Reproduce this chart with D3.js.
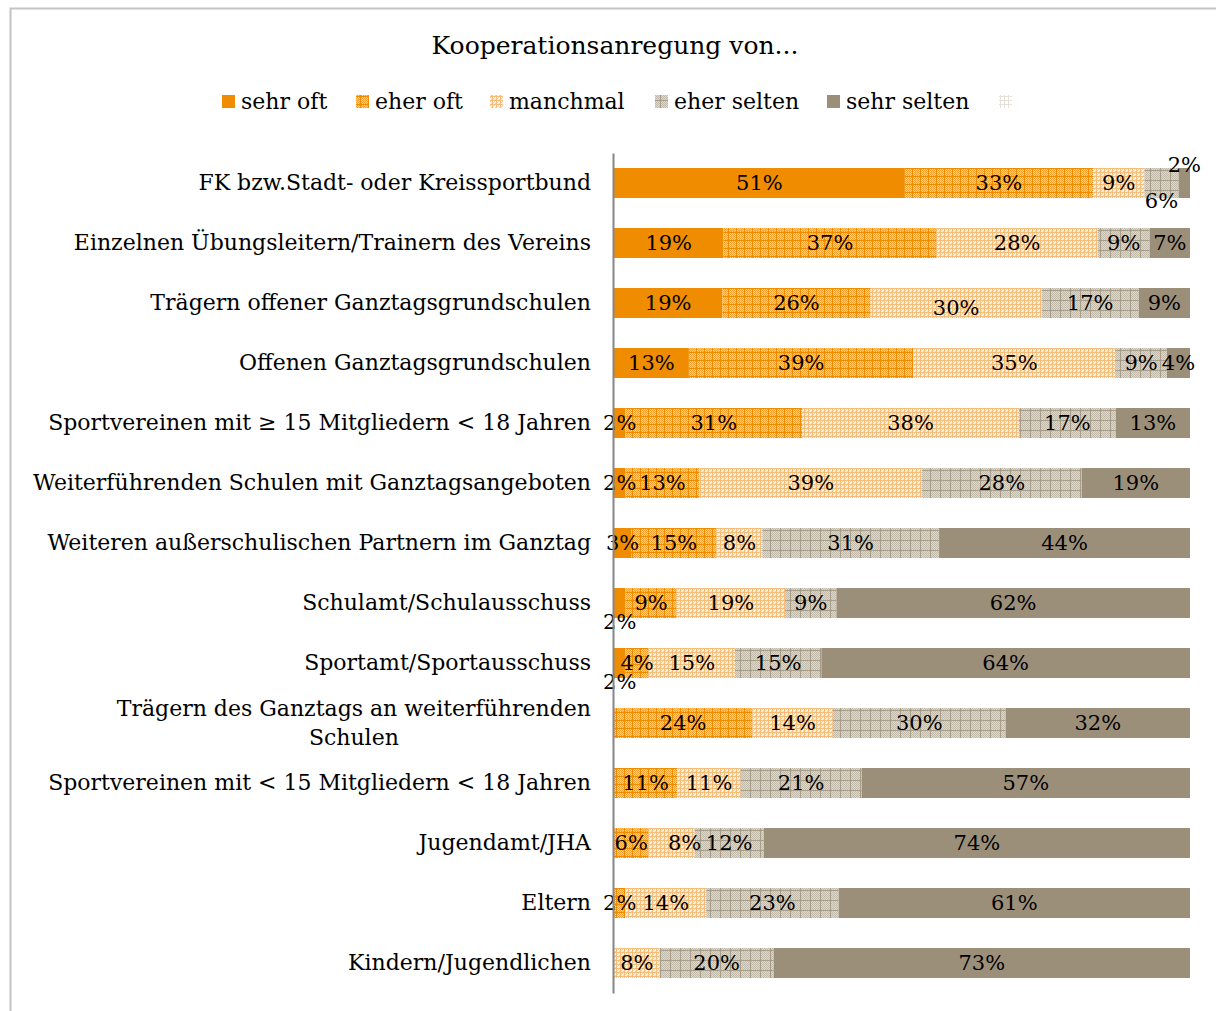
<!DOCTYPE html>
<html><head><meta charset="utf-8">
<script src="https://cdn.jsdelivr.net/npm/d3@7"></script>
<style>
html,body{margin:0;padding:0;background:#fff;}
svg{display:block;font-family:"DejaVu Serif",serif;}
</style></head>
<body>
<svg id="chart" width="1216" height="1011"></svg>
<script>
const categories = [
  "FK bzw.Stadt- oder Kreissportbund",
  "Einzelnen Übungsleitern/Trainern des Vereins",
  "Trägern offener Ganztagsgrundschulen",
  "Offenen Ganztagsgrundschulen",
  "Sportvereinen mit ≥ 15 Mitgliedern < 18 Jahren",
  "Weiterführenden Schulen mit Ganztagsangeboten",
  "Weiteren außerschulischen Partnern im Ganztag",
  "Schulamt/Schulausschuss",
  "Sportamt/Sportausschuss",
  "Trägern des Ganztags an weiterführenden Schulen",
  "Sportvereinen mit < 15 Mitgliedern < 18 Jahren",
  "Jugendamt/JHA",
  "Eltern",
  "Kindern/Jugendlichen"
];
const seriesNames = ["sehr oft", "eher oft", "manchmal", "eher selten", "sehr selten", ""];
const sehrOft    = [51, 19, 19, 13,  2,  2,  3,  2,  2,  0,  0,  0,  0,  0];
const eherOft    = [33, 37, 26, 39, 31, 13, 15,  9,  4, 24, 11,  6,  2,  0];
const manchmal   = [ 9, 28, 30, 35, 38, 39,  8, 19, 15, 14, 11,  8, 14,  8];
const eherSelten = [ 6,  9, 17,  9, 17, 28, 31,  9, 15, 30, 21, 12, 23, 20];
const sehrSelten = [ 2,  7,  9,  4, 13, 19, 44, 62, 64, 32, 57, 74, 61, 73];
const keineAngabe= [ 0,  0,  0,  0,  0,  0,  0,  0,  0,  0,  0,  0,  0,  0];
const chartTitle = "Kooperationsanregung von...";

const seriesValues = [sehrOft, eherOft, manchmal, eherSelten, sehrSelten, keineAngabe];
const keys = seriesValues.map((_, i) => "s" + i);
const table = categories.map((c, r) => {
  const o = {cat: c};
  keys.forEach((k, i) => o[k] = seriesValues[i][r]);
  return o;
});

const svg = d3.select("#chart");
const defs = svg.append("defs");

function checkerPattern(id, size, bg, dot, line, dotEvery) {
  const p = defs.append("pattern").attr("id", id).attr("patternUnits", "userSpaceOnUse")
    .attr("width", size).attr("height", size);
  p.append("rect").attr("width", size).attr("height", size).attr("fill", bg);
  if (dot) {
    for (let x = 0; x < size; x++) for (let y = 0; y < size; y++) {
      if ((x + y) % dotEvery === 0) p.append("rect").attr("x", x).attr("y", y).attr("width", 1).attr("height", 1).attr("fill", dot);
    }
  }
  if (line) {
    p.append("rect").attr("x", 0).attr("y", 0).attr("width", size).attr("height", 1).attr("fill", line);
    p.append("rect").attr("x", 0).attr("y", 0).attr("width", 1).attr("height", size).attr("fill", line);
  }
}
checkerPattern("pEherOft", 8, "#FAD3A2", "#F29D30", "#F08C00", 2);
checkerPattern("pManchmal", 4, "#FFF3E4", "#F9D2A4", "#F6BC78", 3);
checkerPattern("pEherSelten", 10, "#DDD8CF", "#C2BAAB", "#A69D8B", 2);
checkerPattern("pKeine", 4, "#FFFFFF", null, "#E6E1DA", 2);

const fills = ["#F08C00", "url(#pEherOft)", "url(#pManchmal)", "url(#pEherSelten)", "#9C8F7A", "url(#pKeine)"];

svg.append("rect").attr("x", 10.5).attr("y", 8.5).attr("width", 1230).attr("height", 1030)
  .attr("fill", "none").attr("stroke", "#C4C4C4").attr("stroke-width", 2);

svg.append("text").attr("x", 615).attr("y", 45).attr("text-anchor", "middle")
  .attr("dominant-baseline", "central").attr("font-size", 25).attr("fill", "#000").text(chartTitle);

const x = d3.scaleLinear().domain([0, 1]).range([614, 1190]);
const y = d3.scaleBand().domain(categories).range([153, 993]).paddingInner(0.5).paddingOuter(0.25);

const stacked = d3.stack().keys(keys).offset(d3.stackOffsetExpand)(table);

const g = svg.append("g");
stacked.forEach((layer, si) => {
  g.append("g").selectAll("rect").data(layer).join("rect")
    .attr("x", d => x(d[0])).attr("y", d => y(d.data.cat))
    .attr("width", d => Math.max(0, x(d[1]) - x(d[0])))
    .attr("height", y.bandwidth()).attr("fill", fills[si]);
});

const nudge = {"4_0": [0, -18], "3_0": [0, 18], "2_2": [0, 5], "0_7": [0, 19], "0_8": [0, 19], "2_11": [13, 0]};

stacked.forEach((layer, si) => {
  g.append("g").selectAll("text").data(layer.map((d, ri) => ({d, ri})).filter(o => seriesValues[si][o.ri] > 0))
    .join("text")
    .attr("x", o => (x(o.d[0]) + x(o.d[1])) / 2 + (nudge[si + "_" + o.ri] || [0, 0])[0])
    .attr("y", o => y(o.d.data.cat) + y.bandwidth() / 2 + (nudge[si + "_" + o.ri] || [0, 0])[1])
    .attr("text-anchor", "middle").attr("dominant-baseline", "central")
    .attr("font-size", 21).attr("fill", "#000")
    .text(o => seriesValues[si][o.ri] + "%");
});

const axis = svg.append("g").attr("transform", "translate(613,0)")
  .call(d3.axisLeft(y).tickSize(0).tickSizeOuter(0).tickPadding(22));
axis.select(".domain").attr("stroke", "#868686").attr("stroke-width", 2);
axis.selectAll(".tick text").attr("font-size", 22).attr("font-family", "DejaVu Serif, serif").attr("fill", "#000")
  .each(function(d) {
    const t = d3.select(this);
    if (this.getComputedTextLength() > 566) {
      const words = d.split(" ");
      const line2 = words.pop();
      const line1 = words.join(" ");
      t.text(null);
      const a = t.append("tspan").text(line1);
      const w = a.node().getComputedTextLength();
      const cx = -22 - w / 2;
      t.attr("text-anchor", "middle").attr("dy", null);
      a.attr("x", cx).attr("y", -14.5).attr("dominant-baseline", "central");
      t.append("tspan").text(line2).attr("x", cx).attr("y", 14.5).attr("dominant-baseline", "central");
    }
  });

const legendX = [222, 356, 490, 655, 827, 999];
const leg = svg.append("g");
seriesNames.forEach((n, i) => {
  leg.append("rect").attr("x", legendX[i]).attr("y", 95).attr("width", 13).attr("height", 13).attr("fill", fills[i]);
  leg.append("text").attr("x", legendX[i] + 19).attr("y", 101.5).attr("dominant-baseline", "central")
    .attr("font-size", 22).attr("fill", "#000").text(n);
});
</script>
</body></html>
